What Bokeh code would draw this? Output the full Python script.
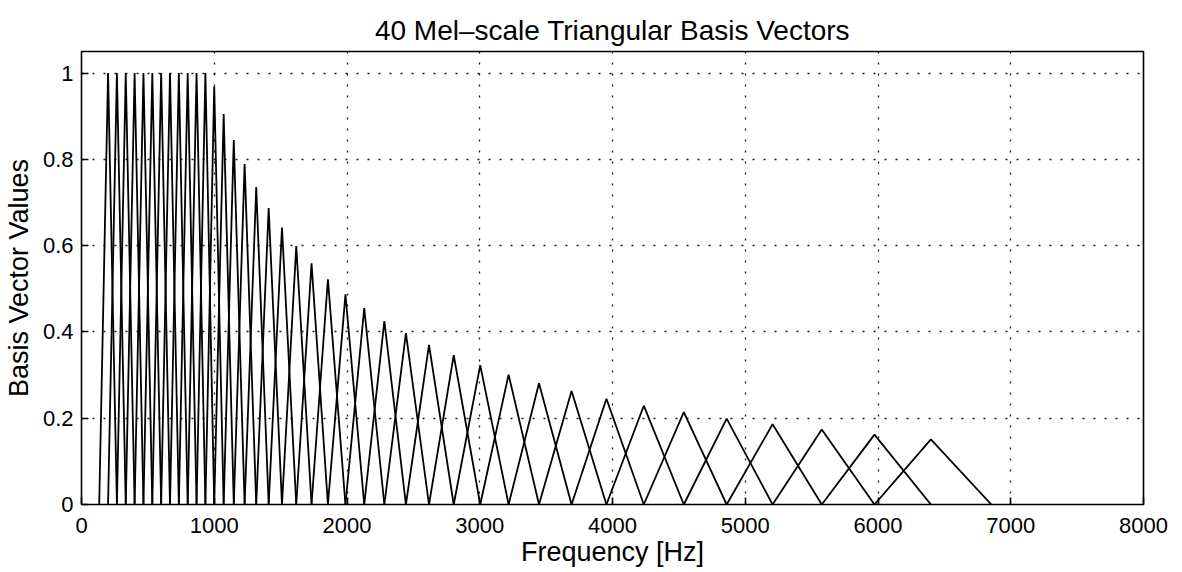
from bokeh.plotting import figure
from bokeh.models import FixedTicker, Range1d
from bokeh.embed import file_html
from bokeh.resources import INLINE

# Filter edge frequencies (Hz): lower/center/upper of filter i are edges[i], edges[i+1], edges[i+2]
edges = [133.33, 200.0, 266.67, 333.33, 400.0, 466.67, 533.33, 600.0, 666.67, 733.33,
         800.0, 866.67, 933.33, 999.76, 1070.91, 1147.13, 1228.77, 1316.22, 1409.90, 1510.24,
         1617.73, 1732.86, 1856.19, 1988.29, 2129.80, 2281.38, 2443.75, 2617.67, 2803.97, 3003.53,
         3217.29, 3446.26, 3691.54, 3954.26, 4235.69, 4537.15, 4860.06, 5205.95, 5576.46, 5973.33,
         6398.46, 6853.84]
# Peak heights of the 40 triangles
heights = [1.0, 1.0, 1.0, 1.0, 1.0, 1.0, 1.0, 1.0, 1.0, 1.0,
           1.0, 1.0, 0.969, 0.905, 0.845, 0.789, 0.736, 0.687, 0.642, 0.599,
           0.559, 0.522, 0.487, 0.455, 0.425, 0.397, 0.370, 0.346, 0.323, 0.301,
           0.281, 0.263, 0.245, 0.229, 0.214, 0.199, 0.186, 0.174, 0.162, 0.151]
x_ticks = [0, 1000, 2000, 3000, 4000, 5000, 6000, 7000, 8000]
y_ticks = [0, 0.2, 0.4, 0.6, 0.8, 1]
y_tick_labels = ["0", "0.2", "0.4", "0.6", "0.8", "1"]

FONT = "Liberation Sans"

p = figure(width=1182, height=572, output_backend="svg", toolbar_location=None,
           x_range=Range1d(0, 8000), y_range=Range1d(0, 1.05),
           min_border_left=81, min_border_right=39, min_border_top=51, min_border_bottom=68)

p.title.text = "40 Mel\u2013scale Triangular Basis Vectors"
p.title.align = "center"
p.title.text_font = FONT
p.title.text_font_size = "28px"
p.title.text_font_style = "normal"
p.title.text_color = "black"
p.title.text_line_height = 0.6
p.title.offset = 0
p.title.standoff = 12

xs = [[edges[i], edges[i + 1], edges[i + 2]] for i in range(len(heights))]
ys = [[0, h, 0] for h in heights]
p.multi_line(xs, ys, line_color="black", line_width=1.8)

p.outline_line_color = "black"
p.outline_line_width = 1.6
p.background_fill_color = "white"
p.border_fill_color = "white"

for g in (p.xgrid[0], p.ygrid[0]):
    g.grid_line_color = "black"
    g.grid_line_dash = "2 9"
    g.grid_line_width = 1.3
    g.grid_line_alpha = 0.9
p.xgrid[0].ticker = FixedTicker(ticks=x_ticks)
p.ygrid[0].ticker = FixedTicker(ticks=y_ticks)

xa = p.xaxis[0]
ya = p.yaxis[0]
xa.ticker = FixedTicker(ticks=x_ticks)
ya.ticker = FixedTicker(ticks=y_ticks)
ya.major_label_overrides = {t: l for t, l in zip(y_ticks, y_tick_labels)}
xa.axis_label = "Frequency [Hz]"
ya.axis_label = "Basis Vector Values"
for ax in (xa, ya):
    ax.axis_line_color = None
    ax.major_tick_in = 7
    ax.major_tick_out = 0
    ax.major_tick_line_color = "black"
    ax.major_tick_line_width = 1.6
    ax.minor_tick_line_color = None
    ax.major_label_text_font = FONT
    ax.major_label_text_font_size = "22px"
    ax.major_label_text_color = "black"
    ax.axis_label_text_font = FONT
    ax.axis_label_text_font_size = "27px"
    ax.axis_label_text_font_style = "normal"
    ax.axis_label_text_color = "black"
xa.major_label_standoff = 13
xa.axis_label_standoff = 1
ya.major_label_standoff = 8
ya.axis_label_standoff = 6

open("out.html", "w").write(file_html(p, INLINE))
